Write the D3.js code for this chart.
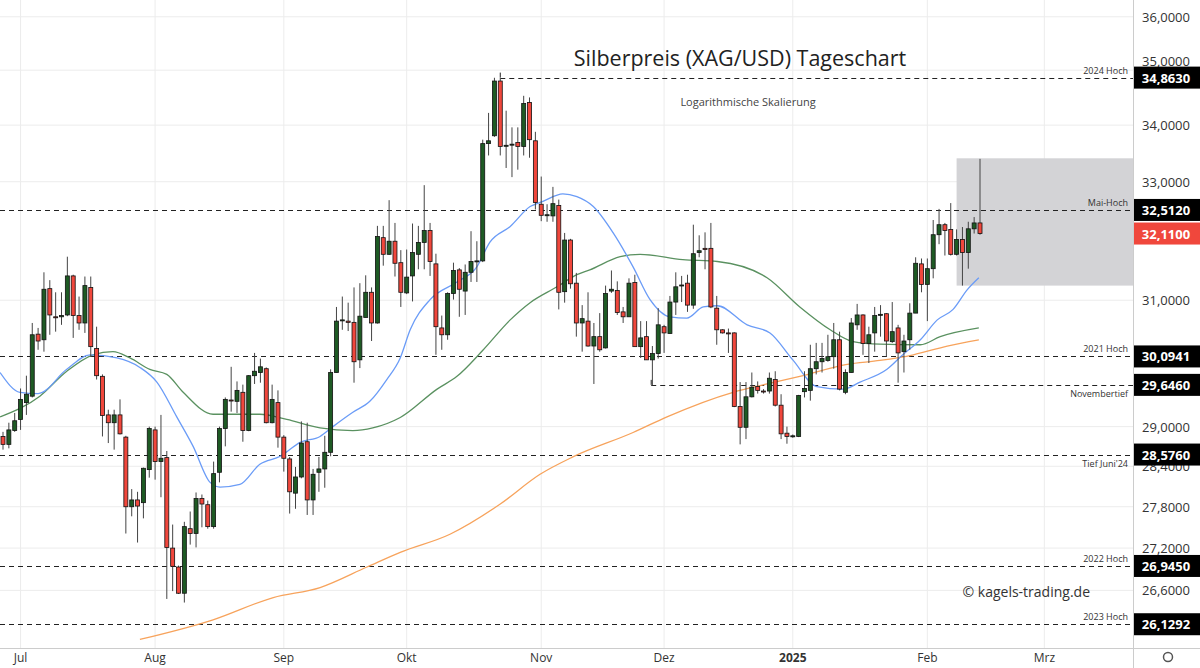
<!DOCTYPE html>
<html>
<head>
<meta charset="utf-8">
<script src="https://cdn.jsdelivr.net/npm/d3@7"></script>
<style>
    body { margin: 0; background: #fff; }
    svg { display: block; font-family: "Open Sans", "DejaVu Sans", sans-serif; }
</style>
</head>
<body>
<svg id="chart" width="1200" height="668"></svg>
<script>
/* Silberpreis (XAG/USD) Tageschart, daily candles Jun 2024 - Feb 2025 */

// open, high, low, close per trading day
const candles = [
    [28.85, 28.92, 28.65, 28.73], [28.73, 29.06, 28.67, 28.95], [28.94, 29.21, 28.92, 29.09],
    [29.11, 29.59, 28.95, 29.42], [29.37, 29.79, 29.18, 29.50], [29.47, 30.63, 29.45, 30.44],
    [30.45, 30.55, 30.20, 30.34], [30.36, 31.46, 30.17, 31.18], [31.19, 31.33, 30.44, 30.76],
    [30.73, 31.13, 30.49, 30.72], [30.73, 31.13, 30.60, 30.75], [30.76, 31.72, 30.74, 31.40],
    [31.40, 31.42, 30.39, 30.75], [30.75, 31.06, 30.52, 30.63], [30.63, 31.39, 30.47, 31.24],
    [31.21, 31.39, 30.09, 30.25], [30.22, 30.57, 29.73, 29.79], [29.78, 29.81, 28.85, 29.17],
    [29.18, 29.26, 28.75, 29.06], [29.06, 29.26, 28.65, 29.18], [29.18, 29.42, 28.88, 28.89],
    [28.84, 28.86, 27.41, 27.80], [27.80, 28.06, 27.66, 27.90], [27.90, 28.02, 27.28, 27.81],
    [27.86, 28.38, 27.63, 28.37], [28.35, 29.00, 28.23, 28.97], [28.95, 29.00, 28.20, 28.47],
    [28.47, 29.18, 27.94, 28.52], [28.53, 28.63, 26.48, 27.21], [27.20, 27.54, 26.59, 26.94],
    [26.93, 26.95, 26.55, 26.56], [26.56, 27.58, 26.43, 27.51], [27.48, 27.73, 27.25, 27.41],
    [27.41, 28.01, 27.21, 27.92], [27.92, 27.98, 27.50, 27.84], [27.83, 27.89, 27.48, 27.51],
    [27.51, 28.47, 27.48, 28.29], [28.31, 29.00, 28.16, 28.97], [28.97, 29.45, 28.70, 29.42],
    [29.41, 29.93, 29.23, 29.40], [29.39, 29.70, 29.21, 29.56], [29.53, 29.65, 28.77, 28.94],
    [28.94, 29.80, 28.93, 29.79], [29.79, 30.15, 29.66, 29.86], [29.84, 30.06, 29.68, 29.93],
    [29.90, 29.92, 29.05, 29.06], [29.06, 29.65, 29.05, 29.42], [29.37, 29.56, 28.68, 28.84],
    [28.84, 28.87, 28.32, 28.52], [28.51, 28.54, 27.70, 28.02], [28.00, 28.39, 27.77, 28.24],
    [28.24, 29.08, 28.22, 28.75], [28.77, 29.06, 27.68, 27.90], [27.90, 28.36, 27.68, 28.28],
    [28.31, 28.54, 28.02, 28.36], [28.36, 28.86, 28.08, 28.61], [28.61, 29.89, 28.55, 29.84],
    [29.84, 30.89, 29.84, 30.66], [30.67, 31.06, 30.52, 30.68], [30.66, 30.96, 30.50, 30.64],
    [30.64, 31.21, 29.68, 30.01], [30.04, 31.28, 29.91, 30.74], [30.72, 31.41, 30.72, 31.13],
    [31.13, 31.21, 30.34, 30.63], [30.63, 32.24, 30.62, 32.06], [32.04, 32.24, 31.57, 31.76],
    [31.76, 32.68, 31.75, 31.98], [31.98, 32.29, 31.39, 31.61], [31.62, 31.83, 30.89, 31.13],
    [31.12, 31.84, 31.10, 31.38], [31.40, 32.28, 30.98, 31.79], [31.76, 32.24, 31.51, 31.96],
    [31.96, 32.94, 31.51, 32.16], [32.16, 32.29, 31.40, 31.64], [31.60, 31.77, 30.12, 30.57],
    [30.55, 30.75, 30.20, 30.44], [30.44, 31.13, 30.36, 31.11], [31.11, 31.62, 31.01, 31.49],
    [31.50, 31.53, 30.73, 31.18], [31.15, 31.59, 30.76, 31.46], [31.46, 32.15, 31.30, 31.64],
    [31.64, 31.98, 31.30, 31.65], [31.65, 33.74, 31.63, 33.67], [33.67, 34.22, 33.46, 33.72],
    [33.81, 34.86, 33.79, 34.80], [34.80, 34.86, 33.46, 33.62], [33.63, 34.26, 33.24, 33.64],
    [33.65, 33.96, 33.08, 33.66], [33.69, 33.96, 33.21, 33.62], [33.62, 34.53, 33.46, 34.39],
    [34.41, 34.50, 33.42, 33.74], [33.72, 33.88, 32.52, 32.64], [32.61, 33.09, 32.32, 32.42],
    [32.42, 32.61, 32.31, 32.43], [32.41, 32.91, 32.31, 32.62], [32.59, 32.69, 30.85, 31.13],
    [31.14, 32.12, 30.96, 32.00], [32.00, 32.02, 31.19, 31.27], [31.28, 31.45, 30.41, 30.63],
    [30.63, 30.92, 30.17, 30.70], [30.66, 31.13, 30.25, 30.26], [30.26, 30.63, 29.66, 30.41],
    [30.41, 30.79, 30.17, 30.20], [30.23, 31.24, 30.22, 31.11], [31.15, 31.49, 31.12, 31.18],
    [31.16, 31.31, 30.76, 30.80], [30.81, 30.89, 30.63, 30.73], [30.73, 31.36, 30.73, 31.28],
    [31.29, 31.42, 30.25, 30.25], [30.25, 30.66, 30.07, 30.39], [30.41, 30.66, 30.04, 30.04],
    [30.04, 30.26, 29.64, 30.14], [30.14, 30.87, 30.06, 30.60], [30.57, 30.60, 30.15, 30.47],
    [30.46, 31.07, 30.46, 30.97], [30.97, 31.46, 30.76, 31.22], [31.24, 31.40, 30.97, 31.25],
    [31.28, 31.42, 30.81, 30.92], [30.92, 32.26, 30.86, 31.77], [31.79, 32.08, 31.71, 31.82],
    [31.86, 32.13, 31.51, 31.84], [31.86, 32.29, 30.87, 30.89], [30.87, 31.07, 30.28, 30.52],
    [30.52, 30.53, 30.46, 30.47], [30.47, 30.54, 30.15, 30.46], [30.47, 30.48, 29.30, 29.31],
    [29.31, 29.69, 28.73, 28.99], [28.99, 29.69, 28.81, 29.46], [29.46, 29.84, 29.45, 29.61],
    [29.62, 29.70, 29.51, 29.56], [29.55, 29.58, 29.51, 29.54], [29.55, 29.84, 29.51, 29.75],
    [29.73, 29.86, 29.31, 29.33], [29.33, 29.50, 28.81, 28.89], [28.90, 29.00, 28.74, 28.85],
    [28.85, 28.88, 28.83, 28.86], [28.85, 29.49, 28.84, 29.48], [29.54, 29.86, 29.45, 29.59],
    [29.56, 30.28, 29.40, 29.90], [29.90, 30.31, 29.81, 30.01], [30.01, 30.31, 29.84, 30.06],
    [30.03, 30.44, 30.01, 30.09], [30.09, 30.63, 29.90, 30.36], [30.36, 30.49, 29.56, 29.58],
    [29.53, 29.89, 29.50, 29.84], [29.84, 30.71, 29.84, 30.63], [30.60, 30.94, 30.52, 30.76],
    [30.76, 30.77, 30.12, 30.30], [30.30, 30.57, 29.99, 30.44], [30.47, 30.89, 30.17, 30.75],
    [30.76, 30.92, 30.41, 30.77], [30.78, 30.79, 30.09, 30.34], [30.33, 30.97, 30.31, 30.49],
    [30.55, 30.60, 29.68, 30.15], [30.17, 30.44, 29.84, 30.34], [30.36, 30.95, 30.20, 30.79],
    [30.79, 31.71, 30.79, 31.61], [31.60, 31.69, 31.13, 31.26], [31.26, 31.69, 30.66, 31.52],
    [31.52, 32.34, 31.36, 32.09], [32.09, 32.53, 31.93, 32.26], [32.26, 32.29, 31.74, 32.16],
    [32.18, 32.63, 31.74, 31.76], [31.76, 32.18, 31.74, 32.01], [32.01, 32.22, 31.24, 31.79],
    [31.79, 32.31, 31.52, 32.19], [32.19, 32.39, 32.11, 32.29], [32.29, 33.40, 32.09, 32.11]
];

// moving averages: [candle index, price]
const maFast = [
    [-0.5, 29.84], [2.9, 29.53], [6.0, 29.51], [10.9, 29.89], [14.9, 30.12], [19.5, 30.07],
    [23.4, 29.92], [26.3, 29.69], [29.7, 29.15], [32.5, 28.70], [35.4, 28.16], [37.1, 28.09],
    [40.5, 28.13], [43.9, 28.43], [47.4, 28.55], [50.8, 28.76], [54.2, 28.85], [56.4, 29.00],
    [59.8, 29.22], [62.7, 29.39], [65.6, 29.73], [67.9, 30.07], [69.6, 30.52], [73.0, 31.01],
    [77.6, 31.30], [81.0, 31.55], [83.2, 31.96], [86.7, 32.23], [90.1, 32.57], [92.3, 32.66],
    [95.7, 32.79], [98.1, 32.74], [100.9, 32.57], [104.3, 32.12], [107.7, 31.55], [110.6, 31.01],
    [114.0, 30.73], [116.9, 30.71], [119.7, 30.89], [122.1, 30.91], [127.2, 30.60], [131.1, 30.47],
    [135.0, 30.04], [139.1, 29.62], [143.6, 29.58], [146.5, 29.69], [151.1, 29.89], [153.8, 30.12],
    [156.8, 30.36], [159.7, 30.68], [162.4, 30.85], [164.8, 31.17], [166.8, 31.37]
];
const maMid = [
    [-0.5, 29.15], [6.3, 29.47], [10.9, 29.86], [15.4, 30.12], [18.8, 30.17], [21.7, 30.07],
    [25.1, 29.89], [28.0, 29.81], [30.8, 29.53], [35.9, 29.19], [39.3, 29.19], [43.9, 29.19],
    [48.5, 29.11], [54.2, 28.98], [59.8, 28.94], [63.2, 28.98], [67.9, 29.14], [74.2, 29.58],
    [77.6, 29.78], [82.1, 30.20], [86.7, 30.68], [90.1, 30.96], [94.7, 31.22], [98.1, 31.42],
    [100.3, 31.50], [105.5, 31.72], [108.9, 31.76], [116.2, 31.67], [122.1, 31.64], [130.6, 31.37],
    [136.2, 30.89], [141.4, 30.52], [145.3, 30.33], [149.9, 30.29], [156.8, 30.28], [160.2, 30.41],
    [166.8, 30.55]
];
const maSlow = [
    [23.4, 25.92], [35.9, 26.19], [46.2, 26.50], [54.2, 26.64], [62.2, 26.93], [67.9, 27.14],
    [76.4, 27.40], [85.0, 27.84], [91.8, 28.28], [97.4, 28.54], [107.7, 28.91], [113.5, 29.15],
    [124.8, 29.53], [130.6, 29.66], [136.2, 29.78], [144.3, 29.97], [149.9, 30.03], [155.6, 30.12],
    [161.4, 30.26], [166.8, 30.36]
];

// horizontal levels: value, label, start index, label above/below
const levelValues = [34.863, 32.512, 30.0941, 29.646, 28.576, 26.945, 26.1292];
const levelNames = ["2024 Hoch", "Mai-Hoch", "2021 Hoch", "Novembertief", "Tief Juni'24", "2022 Hoch", "2023 Hoch"];
const levelStarts = [85, null, null, 110.8, null, null, null];
const levelBelow = [false, false, false, true, true, false, false];

const lastClose = 32.11;
const zoneRange = [163, 33.41, 31.24];

const priceTicks = [36, 35, 34, 33, 31, 29, 28.4, 27.8, 27.2, 26.6];
const tickLabelShift = [0, -9, 0, 0, 0, 0, 0, 0, 0, 0];
const monthLabels = ["Jul", "Aug", "Sep", "Okt", "Nov", "Dez", "2025", "Feb", "Mrz"];
const monthIndex = [3, 26, 48, 69, 92, 113, 135, 158, 178];

const W = 1200, H = 668, plotRight = 1133, plotBottom = 648;
const svg = d3.select("#chart");

const x = d3.scaleLinear().domain([0, 167]).range([3, 980]);
const y = d3.scaleLog().domain([25.79, 36.32]).range([649, 0]);
const fmt = v => d3.format(".4f")(v).replace(".", ",");

// grid
svg.append("g").selectAll("line").data(priceTicks).join("line")
    .attr("x1", 0).attr("x2", plotRight)
    .attr("y1", d => y(d)).attr("y2", d => y(d))
    .attr("stroke", "#ececec");
svg.append("g").selectAll("line").data(monthIndex).join("line")
    .attr("x1", d => x(d)).attr("x2", d => x(d))
    .attr("y1", 0).attr("y2", plotBottom)
    .attr("stroke", "#ececec");

// grey zone
svg.append("rect")
    .attr("x", x(zoneRange[0])).attr("y", y(zoneRange[1]))
    .attr("width", plotRight - x(zoneRange[0]))
    .attr("height", y(zoneRange[2]) - y(zoneRange[1]))
    .attr("fill", "#d3d3d6");

// levels
levelValues.forEach((v, i) => {
    const x0 = levelStarts[i] === null ? 0 : x(levelStarts[i]);
    svg.append("line")
        .attr("x1", x0).attr("x2", plotRight)
        .attr("y1", Math.round(y(v)) + 0.5).attr("y2", Math.round(y(v)) + 0.5)
        .attr("stroke", "#222").attr("stroke-dasharray", "5,4");
    if (levelStarts[i] !== null) {
        svg.append("line")
            .attr("x1", x0).attr("x2", x0)
            .attr("y1", y(v)).attr("y2", y(v) - 5)
            .attr("stroke", "#222");
    }
    svg.append("text")
        .attr("x", 1128).attr("y", y(v) + (levelBelow[i] ? 12 : -4))
        .attr("text-anchor", "end").attr("font-size", 9).attr("fill", "#333")
        .text(levelNames[i]);
});

// moving averages
const line = d3.line().x(d => x(d[0])).y(d => y(d[1])).curve(d3.curveMonotoneX);
[[maSlow, "#f7a35c"], [maMid, "#5a9160"], [maFast, "#6b9cf7"]].forEach(([data, col]) => {
    svg.append("path").datum(data).attr("d", line)
        .attr("fill", "none").attr("stroke", col).attr("stroke-width", 1.3);
});

// candles
const g = svg.append("g");
const up = "#1e5a24", down = "#f0473c";
g.selectAll("line").data(candles).join("line")
    .attr("x1", (d, i) => x(i)).attr("x2", (d, i) => x(i))
    .attr("y1", d => y(d[1])).attr("y2", d => y(d[2]))
    .attr("stroke", "#444").attr("stroke-width", 1);
g.selectAll("rect").data(candles).join("rect")
    .attr("x", (d, i) => x(i) - 2)
    .attr("y", d => y(Math.max(d[0], d[3])))
    .attr("width", 4)
    .attr("height", d => Math.max(1, Math.abs(y(d[0]) - y(d[3]))))
    .attr("fill", d => d[3] >= d[0] ? up : down)
    .attr("stroke", "#111").attr("stroke-width", 0.8);

// titles
svg.append("text").attr("x", 740).attr("y", 66).attr("text-anchor", "middle")
    .attr("font-size", 21.5).attr("fill", "#222").text("Silberpreis (XAG/USD) Tageschart");
svg.append("text").attr("x", 748).attr("y", 106).attr("text-anchor", "middle")
    .attr("font-size", 11).attr("fill", "#444").text("Logarithmische Skalierung");
svg.append("text").attr("x", 1090).attr("y", 597).attr("text-anchor", "end")
    .attr("font-size", 14).attr("fill", "#333").text("© kagels-trading.de");

// right axis
svg.append("rect").attr("x", plotRight).attr("y", 0).attr("width", W - plotRight).attr("height", H).attr("fill", "#fff");
svg.append("line").attr("x1", plotRight + 0.5).attr("x2", plotRight + 0.5).attr("y1", 0).attr("y2", H).attr("stroke", "#ccc");
svg.append("g").selectAll("text").data(priceTicks).join("text")
    .attr("x", 1166).attr("y", (d, i) => y(d) + 5 + tickLabelShift[i]).attr("text-anchor", "middle")
    .attr("font-size", 13).attr("fill", "#333").text(fmt);

const boxes = levelValues.map(v => ({ v, c: "#000" })).concat([{ v: lastClose, c: "#f0473c" }]);
const bg = svg.append("g");
bg.selectAll("rect").data(boxes).join("rect")
    .attr("x", plotRight + 1).attr("y", d => y(d.v) - 11).attr("width", W - plotRight).attr("height", 22)
    .attr("fill", d => d.c);
bg.selectAll("text").data(boxes).join("text")
    .attr("x", 1166).attr("y", d => y(d.v) + 5).attr("text-anchor", "middle")
    .attr("font-size", 13).attr("font-weight", "bold").attr("fill", "#fff").text(d => fmt(d.v));

// bottom axis
svg.append("rect").attr("x", 0).attr("y", plotBottom).attr("width", plotRight).attr("height", H - plotBottom).attr("fill", "#fff");
svg.append("line").attr("x1", 0).attr("x2", W).attr("y1", plotBottom + 0.5).attr("y2", plotBottom + 0.5).attr("stroke", "#ccc");
svg.append("g").selectAll("text").data(monthLabels).join("text")
    .attr("x", (d, i) => x(monthIndex[i])).attr("y", 662).attr("text-anchor", "middle")
    .attr("font-size", 12).attr("fill", "#333")
    .attr("font-weight", d => d === "2025" ? "bold" : "normal")
    .text(d => d);
svg.append("circle").attr("cx", 1168).attr("cy", 657).attr("r", 4.5)
    .attr("fill", "none").attr("stroke", "#555").attr("stroke-width", 1.5);
</script>
</body>
</html>
